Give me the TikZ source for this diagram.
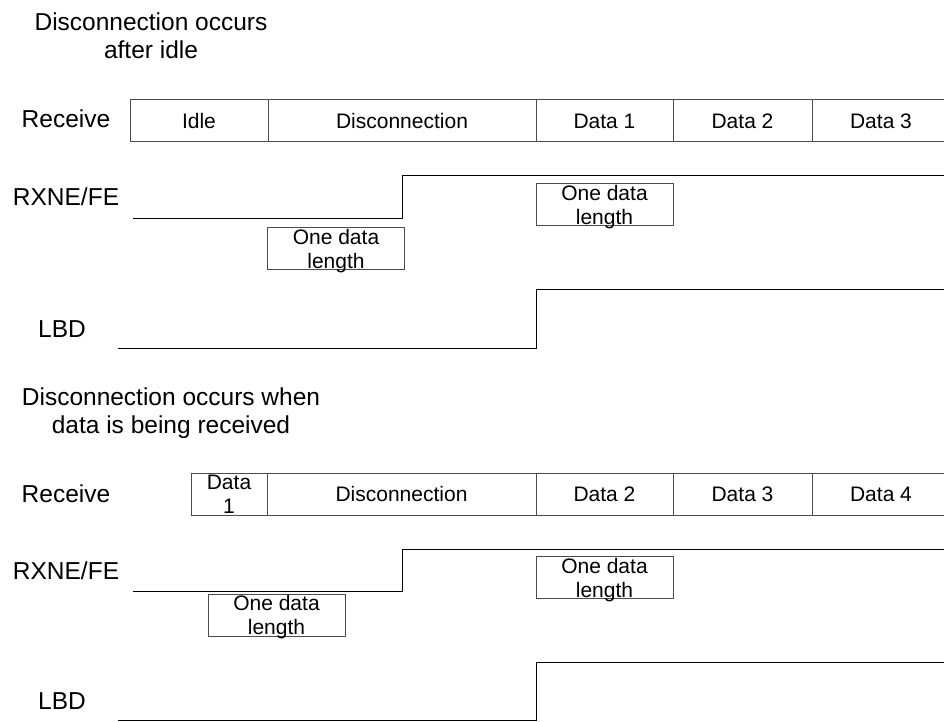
\documentclass[tikz,border=0pt]{standalone}
\usepackage{fontspec}
\setmainfont{Liberation Sans}
\usetikzlibrary{positioning}

\newcommand\labelsize{\fontsize{24.5}{28}\selectfont}
\newcommand\cellsize{\fontsize{21}{24}\selectfont}

\begin{document}
\begin{tikzpicture}[x=1pt,y=-1pt,line width=1pt,
    cell/.style={draw=black!70,minimum height=42,inner sep=0,outer sep=0,
                 align=center,text depth=0pt,font=\cellsize},
    lenbox/.style={cell,minimum width=137},
    sig label/.style={anchor=base,inner sep=0,font=\labelsize},
    title/.style={anchor=north,inner sep=0,align=center,font=\labelsize},
    wave/.style={draw=black}]

  \useasboundingbox (0,0) rectangle (944,722);

  % break detected after the line was idle
  \node[title] (title1) at (151,12) {Disconnection occurs\\after idle};

  \node[sig label] (rx1)  at (66,128) {Receive};
  \node[sig label] (fe1)  at (66,205) {RXNE/FE};
  \node[sig label] (lbd1) at (62,337) {LBD};

  \node[cell,minimum width=138] (idle1) at (199,121) {Idle};
  \node[cell,minimum width=268,right=0pt of idle1] (brk1) {Disconnection};
  \node[cell,minimum width=137,right=0pt of brk1] (dat11) {Data 1};
  \node[cell,minimum width=139,right=0pt of dat11] (dat12) {Data 2};
  \node[cell,minimum width=138,right=0pt of dat12] (dat13) {Data 3};

  \draw[wave] (133,218) -- (402,218) -- (402,176) -- (944,176);
  \node[lenbox] (len11) at (336,248.5) {One data\\length};
  \node[lenbox] (len12) at (604.5,204.5) {One data\\length};

  \draw[wave] (118,348) -- (536,348) -- (536,289) -- (944,289);

  % break detected in the middle of a frame
  \node[title] (title2) at (171,387) {Disconnection occurs when\\data is being received};

  \node[sig label] (rx2)  at (66,502) {Receive};
  \node[sig label] (fe2)  at (66,579) {RXNE/FE};
  \node[sig label] (lbd2) at (62,709) {LBD};

  \node[cell,minimum width=76] (dat21) at (229,494) {Data\\1};
  \node[cell,minimum width=269,right=0pt of dat21] (brk2) {Disconnection};
  \node[cell,minimum width=137,right=0pt of brk2] (dat22) {Data 2};
  \node[cell,minimum width=139,right=0pt of dat22] (dat23) {Data 3};
  \node[cell,minimum width=138,right=0pt of dat23] (dat24) {Data 4};

  \draw[wave] (133,591) -- (402,591) -- (402,549) -- (944,549);
  \node[lenbox] (len21) at (276.5,615) {One data\\length};
  \node[lenbox] (len22) at (604.5,577.5) {One data\\length};

  \draw[wave] (118,720) -- (536,720) -- (536,662) -- (944,662);
\end{tikzpicture}
\end{document}
